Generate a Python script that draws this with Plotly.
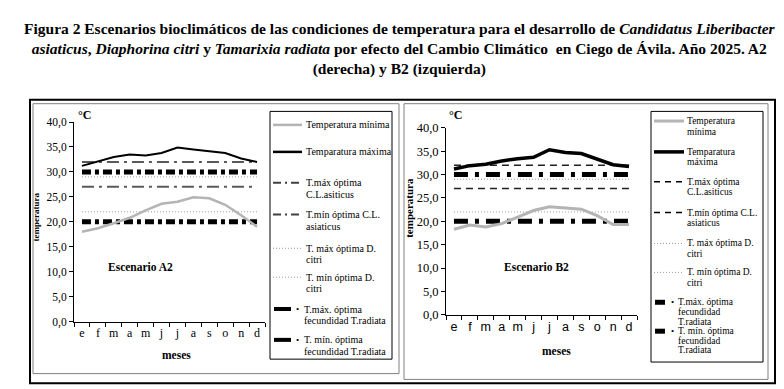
import plotly.graph_objects as go

# ---------------- data ----------------
months = ["e", "f", "m", "a", "m", "j", "j", "a", "s", "o", "n", "d"]
month_idx = list(range(12))

# Escenario A2
a2_tmin = [18.0, 18.7, 19.7, 20.8, 22.3, 23.6, 24.0, 24.9, 24.7, 23.4, 21.3, 19.0]
a2_tmax = [31.2, 32.1, 33.0, 33.5, 33.3, 33.8, 34.9, 34.5, 34.2, 33.8, 32.7, 32.0]
# Escenario B2
b2_tmin = [18.3, 19.2, 18.8, 19.5, 20.9, 22.3, 23.1, 22.9, 22.6, 21.2, 19.3, 19.3]
b2_tmax = [31.2, 31.9, 32.2, 32.9, 33.4, 33.7, 35.3, 34.7, 34.5, 33.2, 32.1, 31.7]

# optimal thresholds (same for both scenarios)
cl_max = [32, 32, 32, 32, 32, 32, 32, 32, 32, 32, 32, 32]
cl_min = [27, 27, 27, 27, 27, 27, 27, 27, 27, 27, 27, 27]
dc_max = [29, 29, 29, 29, 29, 29, 29, 29, 29, 29, 29, 29]
dc_min = [22, 22, 22, 22, 22, 22, 22, 22, 22, 22, 22, 22]
tr_max = [30, 30, 30, 30, 30, 30, 30, 30, 30, 30, 30, 30]
tr_min = [20, 20, 20, 20, 20, 20, 20, 20, 20, 20, 20, 20]

W, H = 784, 389
SERIF = "Times New Roman, Liberation Serif, DejaVu Serif, serif"
SANS = "Arial, Liberation Sans, sans-serif"


def px(x):
    return x / W


def py(y):
    return 1 - y / H


fig = go.Figure()

styles = {
    "A2": dict(
        tmin=dict(color="#b4b4b4", width=2.5),
        tmax=dict(color="#000000", width=2),
        cl=dict(color="#5a5a5a", width=2, dash="12px,5px,3px,5px"),
        dc=dict(color="#9a9a9a", width=1, dash="1px,2px"),
        tr=dict(color="#000000", width=5, dash="9px,4px,4px,4px"),
    ),
    "B2": dict(
        tmin=dict(color="#b4b4b4", width=3),
        tmax=dict(color="#000000", width=3.5),
        cl=dict(color="#202020", width=1.5, dash="7px,5px"),
        dc=dict(color="#9a9a9a", width=1, dash="1px,2px"),
        tr=dict(color="#000000", width=5, dash="14px,7px,4px,7px"),
    ),
}

panels = [
    ("A2", "x", "y", a2_tmin, a2_tmax),
    ("B2", "x2", "y2", b2_tmin, b2_tmax),
]

for name, xa, ya, tmin, tmax in panels:
    st = styles[name]
    series = [
        (tr_max, st["tr"]),
        (tr_min, st["tr"]),
        (dc_max, st["dc"]),
        (dc_min, st["dc"]),
        (cl_max, st["cl"]),
        (cl_min, st["cl"]),
        (tmin, st["tmin"]),
        (tmax, st["tmax"]),
    ]
    for vals, ln in series:
        fig.add_trace(go.Scatter(x=month_idx, y=vals, mode="lines", line=ln,
                                 xaxis=xa, yaxis=ya, showlegend=False,
                                 hoverinfo="skip"))


def xaxis(dom, fam, size):
    return dict(domain=dom, range=[-0.5, 11.5], tickvals=month_idx, ticktext=months,
                ticks="", showline=True, linecolor="black", linewidth=1,
                showgrid=False, zeroline=False,
                tickfont=dict(family=fam, size=size, color="black"),
                minor=dict(tick0=0.5, dtick=1, ticks="outside", ticklen=4,
                           tickcolor="black", showgrid=False),
                fixedrange=True)


def yaxis(dom, anchor, size):
    return dict(domain=dom, range=[0, 40], dtick=5, tickformat=".1f",
                ticks="outside", ticklen=4, tickcolor="black",
                showline=True, linecolor="black", linewidth=1,
                showgrid=False, zeroline=False, anchor=anchor,
                tickfont=dict(family=SERIF, size=size, color="black"),
                fixedrange=True)


fig.update_layout(
    width=W, height=H,
    margin=dict(l=0, r=0, t=0, b=0),
    paper_bgcolor="white", plot_bgcolor="white",
    separators=",.",
    xaxis=dict(xaxis([px(66), px(257)], SERIF, 12), anchor="y"),
    yaxis=yaxis([py(318), py(111)], "x", 11.5),
    xaxis2=dict(xaxis([px(438), px(629)], SANS, 12.5), anchor="y2"),
    yaxis2=yaxis([py(311), py(117)], "x2", 12.5),
)

shapes = []
annots = []

# frames
shapes.append(dict(type="rect", xref="paper", yref="paper", x0=px(22), x1=px(767),
                   y0=py(382), y1=py(88), line=dict(color="black", width=2)))
shapes.append(dict(type="rect", xref="paper", yref="paper", x0=px(25), x1=px(391),
                   y0=py(372), y1=py(92), line=dict(color="#808080", width=1)))
shapes.append(dict(type="rect", xref="paper", yref="paper", x0=px(396), x1=px(760),
                   y0=py(378), y1=py(92), line=dict(color="#808080", width=1)))
# legend boxes
shapes.append(dict(type="rect", xref="paper", yref="paper", x0=px(262), x1=px(384),
                   y0=py(357), y1=py(100), line=dict(color="black", width=1)))
shapes.append(dict(type="rect", xref="paper", yref="paper", x0=px(643), x1=px(755),
                   y0=py(360), y1=py(100), line=dict(color="black", width=1)))


def text(x, y, s, size=10, fam=SERIF, bold=False, xanchor="left", angle=0):
    annots.append(dict(x=px(x), y=py(y), xref="paper", yref="paper",
                       text=("<b>" + s + "</b>") if bold else s,
                       showarrow=False, xanchor=xanchor, yanchor="middle",
                       textangle=angle,
                       font=dict(family=fam, size=size, color="black")))


def sample(x0, x1, y, ln):
    shapes.append(dict(type="line", xref="paper", yref="paper", x0=px(x0), x1=px(x1),
                       y0=py(y), y1=py(y), line=ln))


# title
annots.append(dict(
    x=0.5, y=py(3), xref="paper", yref="paper", xanchor="center", yanchor="top",
    showarrow=False, align="center",
    font=dict(family=SERIF, size=15.5, color="black"),
    text="<b>Figura 2 Escenarios bioclimáticos de las condiciones de temperatura para el desarrollo de <i>Candidatus Liberibacter</i></b><br>"
         "<b><i>asiaticus</i>, <i>Diaphorina citri</i> y <i>Tamarixia radiata</i> por efecto del Cambio Climático  en Ciego de Ávila. Año 2025. A2</b><br>"
         "<b>(derecha) y B2 (izquierda)</b>",
))

# panel texts
text(68, 104, "°C", size=12, bold=True)
text(439, 104, "°C", size=12, bold=True)
text(28, 210, "temperatura", size=9, bold=True, xanchor="center", angle=-90)
text(401, 200, "temperatura", size=11, bold=True, xanchor="center", angle=-90)
text(168, 353, "meses", size=11.5, bold=True, xanchor="center")
text(548, 349, "meses", size=11.5, bold=True, xanchor="center")
text(132, 261, "Escenario A2", size=11.5, bold=True, xanchor="center")
text(528, 261, "Escenario B2", size=11.5, bold=True, xanchor="center")

# left legend (A2)
stA = styles["A2"]
cl_leg_a = dict(color="#404040", width=2, dash="8px,4px,2px,4px")
legA = [
    (114, ["Temperatura mínima"], stA["tmin"], None),
    (142, ["Temparatura máxima"], dict(stA["tmax"], width=2.5), None),
    (174, ["T.máx óptima", "C.L.asiticus"], cl_leg_a, None),
    (207, ["T.mín óptima C.L.", "asiaticus"], cl_leg_a, None),
    (242, ["T. máx óptima D.", "citri"], stA["dc"], None),
    (272, ["T. mín óptima D.", "citri"], stA["dc"], None),
    (305, ["T.máx. óptima", "fecundidad T.radiata"], dict(color="black", width=4), "dot"),
    (337, ["T. mín. óptima", "fecundidad T.radiata"], dict(color="black", width=4), "dot"),
]
for y, lines, ln, kind in legA:
    if kind == "dot":
        sample(266, 283, y, ln)
        text(289, y, "•", size=9, xanchor="center")
        tx = 294
    else:
        sample(265, 294, y, ln)
        tx = 296
    for i, s in enumerate(lines):
        text(tx, y + 12 * i, s, size=10)

# right legend (B2)
stB = styles["B2"]
cl_leg_b = dict(color="black", width=1.5, dash="6px,5px")
legB = [
    (110, ["Temperatura", "mínima"], stB["tmin"], None),
    (142, ["Temparatura", "máxima"], stB["tmax"], None),
    (173, ["T.máx óptima", "C.L.asiticus"], cl_leg_b, None),
    (205, ["T.mín óptima C.L.", "asiaticus"], cl_leg_b, None),
    (237, ["T. máx óptima D.", "citri"], stB["dc"], None),
    (267, ["T. mín óptima D.", "citri"], stB["dc"], None),
    (298, ["T.máx. óptima", "fecundidad", "T.radiata"], dict(color="black", width=5), "dot"),
    (328, ["T. mín. óptima", "fecundidad", "T.radiata"], dict(color="black", width=5), "dot"),
]
for y, lines, ln, kind in legB:
    if kind == "dot":
        sample(647, 657, y, ln)
        text(664, y, "•", size=9, xanchor="center")
        tx = 668
    else:
        sample(646, 676, y, ln)
        tx = 677
    step = 10 if len(lines) == 3 else 11
    for i, s in enumerate(lines):
        text(tx, y + step * i, s, size=9.5)

fig.update_layout(shapes=shapes, annotations=annots)
fig.write_html("out.html")
